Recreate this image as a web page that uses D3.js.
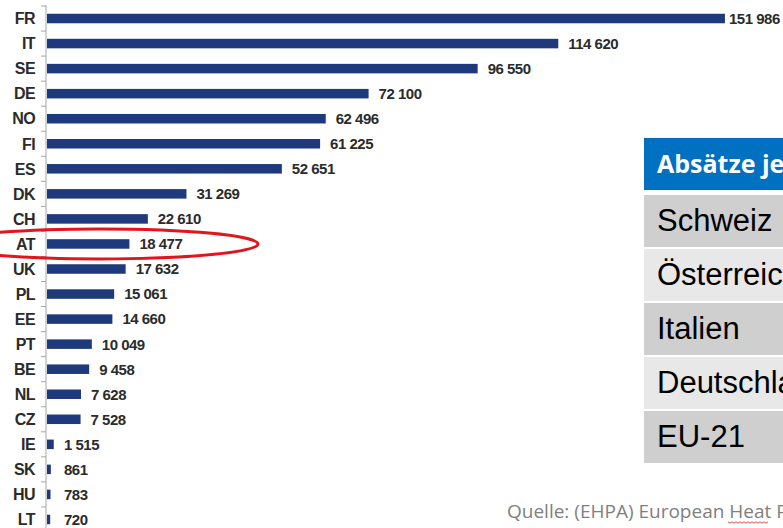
<!DOCTYPE html>
<html>
<head>
<meta charset="utf-8">
<script src="https://cdn.jsdelivr.net/npm/d3@7"></script>
<style>
  body { margin: 0; background: #fff; }
  svg { display: block; }
  .cat { font: bold 16px "Liberation Sans", Arial, sans-serif; fill: #2b2b2b; letter-spacing: -0.6px; }
  .val { font: bold 15px "Liberation Sans", Arial, sans-serif; fill: #2b2b2b; letter-spacing: -0.5px; }
</style>
</head>
<body>
<div id="chart"></div>
<script>
var countries = ['FR','IT','SE','DE','NO','FI','ES','DK','CH','AT','UK','PL','EE','PT','BE','NL','CZ','IE','SK','HU','LT']
var sales = [151986, 114620, 96550, 72100, 62496, 61225, 52651, 31269, 22610, 18477, 17632, 15061, 14660, 10049, 9458, 7628, 7528, 1515, 861, 783, 720]

var tableHeader = 'Absätze je 1000 Haushalte'
var tableRows = ['Schweiz', 'Österreich', 'Italien', 'Deutschland', 'EU-21']

var source = 'Quelle: (EHPA) European Heat Pump Association'

var data = countries.map(function(d, i){ return {country: d, sales: sales[i]} })

var width = 783, height = 528

var svg = d3.select('#chart').append('svg')
  .attr('width', width)
  .attr('height', height)

var x = d3.scaleLinear().domain([0, 152000]).range([47, 725])
var y = d3.scaleBand().domain(countries).range([6, 532]).paddingInner(0.62).paddingOuter(0.31)

var fmt = d3.formatLocale({decimal: ',', thousands: ' ', grouping: [3], currency: ['', '']}).format(',')

// axis line + ticks between categories
svg.append('line')
  .attr('x1', 46).attr('x2', 46)
  .attr('y1', 5).attr('y2', height)
  .attr('stroke', '#a6a6a6')

svg.selectAll('line.tick')
  .data(countries)
  .enter().append('line')
  .attr('class', 'tick')
  .attr('x1', 41).attr('x2', 46)
  .attr('y1', function(d){ return y(d) - y.step() * 0.31 })
  .attr('y2', function(d){ return y(d) - y.step() * 0.31 })
  .attr('stroke', '#a6a6a6')

svg.selectAll('rect.bar')
  .data(data)
  .enter().append('rect')
  .attr('class', 'bar')
  .attr('x', x(0))
  .attr('y', function(d){ return y(d.country) })
  .attr('width', function(d){ return Math.max(x(d.sales) - x(0), 2.5) })
  .attr('height', y.bandwidth())
  .attr('fill', '#1f3a7c')

svg.selectAll('text.cat')
  .data(data)
  .enter().append('text')
  .attr('class', 'cat')
  .attr('x', 35)
  .attr('y', function(d){ return y(d.country) + y.bandwidth() / 2 })
  .attr('dy', '0.36em')
  .attr('text-anchor', 'end')
  .text(function(d){ return d.country })

svg.selectAll('text.val')
  .data(data)
  .enter().append('text')
  .attr('class', 'val')
  .attr('x', function(d){ return Math.min(Math.max(x(d.sales) + 10, 64), 729) })
  .attr('y', function(d){ return y(d.country) + y.bandwidth() / 2 })
  .attr('dy', '0.36em')
  .text(function(d){ return fmt(d.sales) })

// red highlight round AT
svg.append('ellipse')
  .attr('cx', 100)
  .attr('cy', y('AT') + y.bandwidth() / 2)
  .attr('rx', 158)
  .attr('ry', 15)
  .attr('fill', 'none')
  .attr('stroke', '#e3141b')
  .attr('stroke-width', 3)

// table on the right (runs off the page edge like the original slide)
var tbl = svg.append('g')

tbl.append('rect')
  .attr('x', 644).attr('y', 138)
  .attr('width', 200).attr('height', 52)
  .attr('fill', '#0070c0')

tbl.append('text')
  .attr('x', 657).attr('y', 173)
  .attr('fill', '#fff')
  .style('font', 'bold 25px "Open Sans", sans-serif')
  .text(tableHeader)

tbl.selectAll('rect.row')
  .data(tableRows)
  .enter().append('rect')
  .attr('class', 'row')
  .attr('x', 644)
  .attr('y', function(d, i){ return 195 + i * 54 })
  .attr('width', 200)
  .attr('height', 52)
  .attr('fill', function(d, i){ return i % 2 ? '#e8e8e8' : '#cfcfcf' })

tbl.selectAll('text.row')
  .data(tableRows)
  .enter().append('text')
  .attr('class', 'row')
  .attr('x', 657)
  .attr('y', function(d, i){ return 195 + i * 54 + 36 })
  .attr('fill', '#000')
  .style('font', '31px "Liberation Sans", Arial, sans-serif')
  .text(function(d){ return d })

svg.append('text')
  .attr('x', 507).attr('y', 518)
  .attr('fill', '#808080')
  .style('font', '19px "Open Sans", sans-serif')
  .text(source)

// spell-check squiggle under "Heat"
var wave = []
for (var i = 0; i <= 20; i++) wave.push([728 + i * 2, 522 + (i % 2 ? 1.2 : -0.2)])
svg.append('path')
  .attr('d', d3.line()(wave))
  .attr('fill', 'none')
  .attr('stroke', '#e02020')
  .attr('stroke-width', 0.8)
</script>
</body>
</html>
